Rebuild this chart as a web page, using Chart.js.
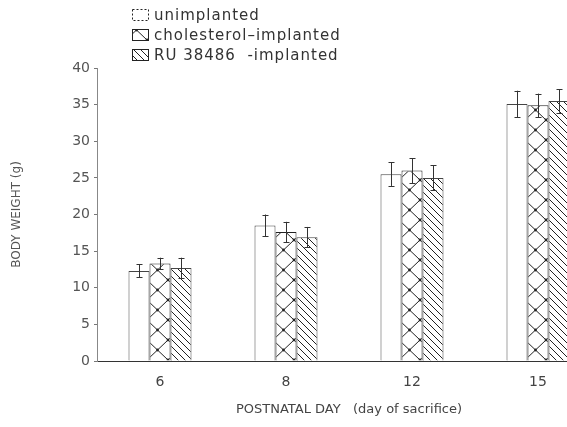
<!DOCTYPE html>
<html>
<head>
<meta charset="utf-8">
<script src="https://cdn.jsdelivr.net/npm/chart.js@4"></script>
<style>
html,body{margin:0;padding:0;background:#fff;overflow:hidden;}
#wrap{width:605px;height:427px;}
</style>
</head>
<body>
<div id="wrap"><canvas id="c" width="605" height="427"></canvas></div>
<script>
// ---- data ----
const days = ['6', '8', '12', '15'];
const seriesNames = ['unimplanted', 'cholesterol\u2013implanted', 'RU 38486  -implanted'];
const unimplanted = [12.3, 18.5, 25.5, 35.1];
const cholesterol = [13.3, 17.6, 26.0, 34.9];
const ru38486 = [12.7, 16.9, 25.0, 35.5];
const unimplantedErr = [0.9, 1.5, 1.6, 1.8];
const cholesterolErr = [0.8, 1.4, 1.7, 1.6];
const ru38486Err = [1.4, 1.4, 1.7, 1.6];
const yTicks = [0, 5, 10, 15, 20, 25, 30, 35, 40];

const INK = '#222';
const TEXT = '#444';
const FONT = 'DejaVu Sans';

function crossPattern() {
  const c = document.createElement('canvas');
  c.width = 21; c.height = 20;
  const g = c.getContext('2d');
  g.fillStyle = '#fff'; g.fillRect(0, 0, 21, 20);
  g.strokeStyle = INK; g.lineWidth = 1;
  g.beginPath();
  g.moveTo(-1, -0.95); g.lineTo(22, 20.95);
  g.moveTo(22, -0.95); g.lineTo(-1, 20.95);
  g.stroke();
  g.fillStyle = INK;
  [[10.5, 10], [0, 0], [21, 0], [0, 20], [21, 20]].forEach(p => {
    g.beginPath(); g.arc(p[0], p[1], 1.4, 0, Math.PI * 2); g.fill();
  });
  return g.createPattern(c, 'repeat');
}
function hatchPattern() {
  const c = document.createElement('canvas');
  c.width = 7; c.height = 7;
  const g = c.getContext('2d');
  g.fillStyle = '#fff'; g.fillRect(0, 0, 7, 7);
  g.strokeStyle = INK; g.lineWidth = 1;
  g.beginPath();
  g.moveTo(-1, -1); g.lineTo(8, 8);
  g.moveTo(-1, 6); g.lineTo(1, 8);
  g.moveTo(6, -1); g.lineTo(8, 1);
  g.stroke();
  return g.createPattern(c, 'repeat');
}
const crossFill = crossPattern();
const hatchFill = hatchPattern();

const errorBars = {
  id: 'errorBars',
  afterDatasetsDraw(chart) {
    const ctx = chart.ctx;
    const ys = chart.scales.y;
    ctx.save();
    ctx.strokeStyle = '#333';
    ctx.lineWidth = 1;
    chart.data.datasets.forEach((ds, di) => {
      const meta = chart.getDatasetMeta(di);
      meta.data.forEach((bar, i) => {
        const v = ds.data[i], e = ds.errors[i];
        const x = Math.round(bar.x) + 0.5;
        const y1 = ys.getPixelForValue(v + e), y2 = ys.getPixelForValue(v - e);
        ctx.beginPath();
        ctx.moveTo(x, y1); ctx.lineTo(x, y2);
        ctx.moveTo(x - 3, Math.round(y1) + 0.5); ctx.lineTo(x + 3, Math.round(y1) + 0.5);
        ctx.moveTo(x - 3, Math.round(y2) + 0.5); ctx.lineTo(x + 3, Math.round(y2) + 0.5);
        ctx.stroke();
      });
    });
    ctx.restore();
  }
};

const legendBox = {
  id: 'legendBox',
  afterDraw(chart) {
    const ctx = chart.ctx;
    ctx.save();
    const fills = [null, crossFill, hatchFill];
    const rows = [15, 35, 55];
    ctx.font = '15px "' + FONT + '"';
    ctx.letterSpacing = '1px';
    ctx.textBaseline = 'middle';
    rows.forEach((cy, i) => {
      const bx = 132.5, by = cy - 5.5, bw = 16, bh = 11;
      if (fills[i]) { ctx.fillStyle = fills[i]; ctx.fillRect(bx, by, bw, bh); }
      ctx.strokeStyle = INK; ctx.lineWidth = 1;
      if (i === 0) ctx.setLineDash([2, 2]);
      ctx.strokeRect(bx, by, bw, bh);
      ctx.setLineDash([]);
      ctx.fillStyle = '#333';
      ctx.fillText(seriesNames[i], 154, cy + 1);
    });
    ctx.restore();
  }
};

new Chart(document.getElementById('c'), {
  type: 'bar',
  data: {
    labels: days,
    datasets: [
      { label: seriesNames[0], data: unimplanted, errors: unimplantedErr, backgroundColor: '#fff', borderColor: '#444', borderWidth: 1 },
      { label: seriesNames[1], data: cholesterol, errors: cholesterolErr, backgroundColor: crossFill, borderColor: INK, borderWidth: 1 },
      { label: seriesNames[2], data: ru38486, errors: ru38486Err, backgroundColor: hatchFill, borderColor: '#444', borderWidth: 1 }
    ]
  },
  plugins: [errorBars, legendBox],
  options: {
    responsive: false,
    animation: false,
    devicePixelRatio: 1,
    layout: { padding: { top: 68, right: 4, left: 0, bottom: 0 } },
    plugins: { legend: { display: false }, tooltip: { enabled: false } },
    datasets: { bar: { barPercentage: 1, categoryPercentage: 0.5 } },
    scales: {
      x: {
        grid: { display: false, drawTicks: false },
        border: { display: true, color: '#333', width: 1 },
        ticks: { color: TEXT, font: { family: FONT, size: 14 }, padding: 13 },
        title: { display: true, text: 'POSTNATAL DAY   (day of sacrifice)', color: TEXT, font: { family: FONT, size: 13 }, padding: { top: 0, bottom: 10 } },
        afterFit(s) { s.height = 66; }
      },
      y: {
        min: 0, max: 40,
        afterBuildTicks(s) { s.ticks = yTicks.map(v => ({ value: v })); },
        grid: { drawOnChartArea: false, drawTicks: true, tickLength: 3, color: '#777' },
        border: { display: true, color: '#888', dash: [2, 3] },
        ticks: { color: '#555', font: { family: FONT, size: 14 }, padding: 4 },
        title: { display: true, text: 'BODY WEIGHT (g)', color: '#555', font: { family: FONT, size: 12 }, padding: { top: 10, bottom: 0 } },
        afterFit(s) { s.width = 97; }
      }
    }
  }
});
</script>
</body>
</html>
